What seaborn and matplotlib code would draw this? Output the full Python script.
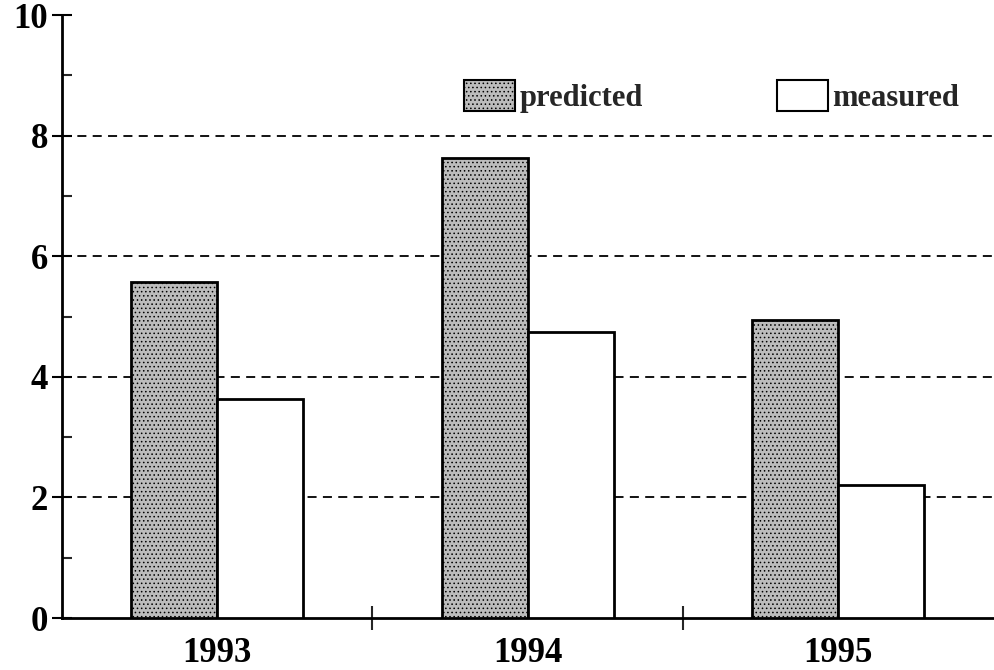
import pandas as pd
import seaborn as sns
from matplotlib import pyplot as plt
from matplotlib.patches import Patch

years = ["1993", "1994", "1995"]
predicted = [5.58, 7.63, 4.95]
measured = [3.63, 4.74, 2.2]
series = ["predicted", "measured"]

df = pd.DataFrame({
    "year": years * 2,
    "value": predicted + measured,
    "series": [series[0]] * 3 + [series[1]] * 3,
})

sns.set_style("white")
plt.rcParams["font.family"] = ["Liberation Serif", "DejaVu Serif"]
plt.rcParams["font.weight"] = "bold"
plt.rcParams["hatch.color"] = "#8c8c8c"
plt.rcParams["hatch.linewidth"] = 0.6

fig = plt.figure(figsize=(9.95, 6.7), dpi=100)
ax = fig.add_axes([0.0623, 0.0776, 0.936, 0.9])

sns.barplot(data=df, x="year", y="value", hue="series", ax=ax,
            palette={"predicted": "#bcbcbc", "measured": "white"},
            edgecolor="black", linewidth=2, width=0.555, gap=0,
            saturation=1, legend=False, zorder=3)
for p in ax.containers[0]:
    p.set_hatch("....")

ax.set_xlim(-0.5, 2.5)
ax.set_ylim(0, 10)
yticks = list(range(0, 11, 2))
ax.set_yticks(yticks)
ax.set_yticks(range(1, 10, 2), minor=True)
ax.set_xticks([0.5, 1.5], minor=True)

# dashed grid only between the bottom and top ticks
ax.grid(False)
for v in yticks[1:-1]:
    ax.axhline(v, color="black", linestyle=(0, (5, 3.5)), linewidth=1.3, zorder=1)

for s in ["top", "right"]:
    ax.spines[s].set_visible(False)
for s in ["left", "bottom"]:
    ax.spines[s].set_color("black")
    ax.spines[s].set_linewidth(2)

ax.tick_params(axis="y", which="major", direction="inout", length=14, width=1.5,
               labelsize=25, pad=3, colors="black", left=True)
ax.tick_params(axis="y", which="minor", direction="in", length=7, width=1.5, left=True)
ax.tick_params(axis="x", which="major", length=0, labelsize=25, pad=14, colors="black")
ax.tick_params(axis="x", which="minor", direction="inout", length=17, width=1.5, bottom=True)
for lbl in ax.get_xticklabels() + ax.get_yticklabels():
    lbl.set_fontweight("bold")

ax.set_xlabel("")
ax.set_ylabel("")

handles = [Patch(facecolor="#bcbcbc", edgecolor="black", hatch="....", linewidth=1.5, label="predicted"),
           Patch(facecolor="white", edgecolor="black", linewidth=1.5, label="measured")]
ax.legend(handles=handles, loc="upper left", bbox_to_anchor=(0.432, 0.893), ncol=2,
          frameon=False, prop={"size": 22, "weight": "bold"}, handlelength=1.65,
          handleheight=1.2, handletextpad=0.15, columnspacing=4.4, borderpad=0,
          borderaxespad=0)

plt.savefig("out.png", dpi=100)
